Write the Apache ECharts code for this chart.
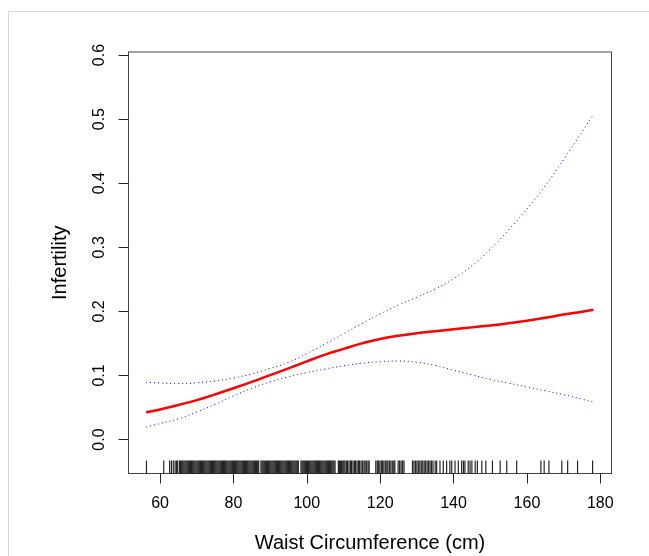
<!DOCTYPE html>
<html>
<head>
<meta charset="utf-8">
<script src="https://cdn.jsdelivr.net/npm/echarts@6/dist/echarts.min.js"></script>
<style>
  html, body { margin: 0; padding: 0; background: #fff; }
  #chart { width: 649px; height: 556px; }
</style>
</head>
<body>
<div id="chart"></div>
<script>
// waist circumference (cm) where the curves were read
const waist = [56.2, 60, 65, 70, 75, 80, 85, 90, 95, 100, 105, 110, 115, 120, 125,
  130, 135, 140, 145, 150, 155, 160, 165, 170, 175, 178.1]
// fitted infertility
const fit = [0.0425, 0.047, 0.054, 0.0615, 0.0705, 0.080, 0.090, 0.1005, 0.111, 0.122,
  0.1325, 0.1415, 0.150, 0.157, 0.162, 0.166, 0.169, 0.172, 0.175, 0.178, 0.1815,
  0.1855, 0.190, 0.195, 0.1995, 0.2025]
// 95% CI upper / lower
const upper = [0.0893, 0.0882, 0.0875, 0.0885, 0.0915, 0.096, 0.1025, 0.111, 0.1205,
  0.134, 0.149, 0.165, 0.181, 0.196, 0.210, 0.222, 0.235, 0.251, 0.271, 0.297, 0.327,
  0.360, 0.396, 0.437, 0.480, 0.507]
const lower = [0.0195, 0.025, 0.0325, 0.043, 0.055, 0.068, 0.080, 0.090, 0.098, 0.1045,
  0.110, 0.115, 0.119, 0.1215, 0.1225, 0.1205, 0.1155, 0.108, 0.101, 0.094, 0.088,
  0.082, 0.076, 0.070, 0.063, 0.0585]
// rug of observed waist values
const rug = [56.3, 61.0, 62.6, 63.1, 63.6, 64.1, 64.5, 64.8, 65.3, 65.6,
  65.9, 66.2, 66.5, 66.8, 67.1, 67.4, 67.7, 68.0, 68.3, 68.6, 68.9, 69.2, 69.5, 69.8,
  70.1, 70.4, 70.7, 71.0, 71.3, 71.6, 71.9, 72.2, 72.5, 72.8, 73.1, 73.4, 73.7, 74.0,
  74.3, 74.6, 74.9, 75.2, 75.5, 75.8, 76.1, 76.4, 76.7, 77.0, 77.3, 77.6, 77.9, 78.2,
  78.5, 78.8, 79.1, 79.4, 79.7, 80.0, 80.3, 80.6, 80.9, 81.2, 81.5, 81.8, 82.1, 82.4,
  82.7, 83.0, 83.3, 83.6, 83.9, 84.2, 84.5, 84.8, 85.1, 85.4, 85.7, 86.0, 86.3, 86.6,
  86.9, 87.5, 87.8, 88.1, 88.4, 88.7, 89.0, 89.3, 89.6, 89.9, 90.2, 90.5, 90.8, 91.1,
  91.4, 91.7, 92.0, 92.3, 92.6, 92.9, 93.2, 93.5, 93.8, 94.1, 94.4, 94.7, 95.0, 95.3,
  95.6, 95.9, 96.2, 96.5, 96.8, 97.1, 97.4, 97.7, 98.4, 98.7, 99.0, 99.3, 99.6, 99.9,
  100.2, 100.5, 100.8, 101.1, 101.4, 101.7, 102.0, 102.3, 102.6, 102.9, 103.2, 103.5,
  103.8, 104.1, 104.4, 104.7, 105.0, 105.3, 105.6, 105.9, 106.2, 106.5, 106.8, 107.1,
  107.4, 107.7, 108.6, 108.9, 109.2, 109.5, 109.8, 110.1,
  110.4, 110.8, 111.1, 111.5, 111.9, 112.2, 112.6, 113.0, 113.3, 113.7, 114.1, 114.4,
  114.8, 115.2, 115.6, 115.9, 116.3, 116.7, 117.0, 118.8, 119.2, 119.5, 119.9, 120.3,
  120.6, 121.0, 121.4, 121.8, 122.1, 122.5, 122.9, 123.3, 123.7, 124.0, 124.9, 125.3,
  125.7, 126.1, 126.5, 128.8, 129.2, 129.6, 130.0, 130.4, 130.8, 131.2, 131.6, 132.0,
  132.4, 132.8, 133.2, 133.6, 134.0, 134.4,
  135.0, 135.4, 136.3, 137.2, 138.1, 139.0, 139.5, 140.4, 141.3, 142.2, 142.7, 143.1,
  144.0, 144.5, 145.0, 145.9, 146.5,
  147.7, 148.8, 150.6, 152.7, 154.5, 157.2, 163.8, 164.7, 166.0, 169.5, 171.1, 173.8, 177.9]
const xTicks = [60, 80, 100, 120, 140, 160, 180]
const yTicks = [0, 0.1, 0.2, 0.3, 0.4, 0.5, 0.6]

const X_MIN = 51.4, X_MAX = 183.05
const Y_MIN = -0.053, Y_MAX = 0.6047
const font = 'Liberation Sans, Arial, Helvetica, sans-serif'

const pairs = arr => waist.map((w, i) => [w, arr[i]])

const chart = echarts.init(document.getElementById('chart'), null, { renderer: 'canvas' })

chart.setOption({
  animation: false,
  backgroundColor: '#fff',
  graphic: [{
    type: 'rect', silent: true, z: -10,
    shape: { x: 8.5, y: 11.5, width: 700, height: 600 },
    style: { fill: 'transparent', stroke: '#d8d8d8', lineWidth: 1 }
  }],
  grid: {
    left: 128.5, right: 37.5, top: 52, bottom: 82.5,
    outerBoundsMode: 'none', containLabel: false,
    show: true, borderColor: '#444', borderWidth: 1, backgroundColor: 'transparent'
  },
  xAxis: {
    type: 'value', min: X_MIN, max: X_MAX,
    name: 'Waist Circumference (cm)', nameLocation: 'middle', nameGap: 60,
    nameTextStyle: { fontFamily: font, fontSize: 20, color: '#000' },
    axisLine: { show: true, onZero: false, lineStyle: { color: '#444', width: 1 } },
    axisTick: { show: true, inside: false, length: 10, customValues: xTicks, lineStyle: { color: '#222', width: 1 } },
    axisLabel: { customValues: xTicks, margin: 22, fontFamily: font, fontSize: 16, color: '#000' },
    splitLine: { show: false }
  },
  yAxis: {
    type: 'value', min: Y_MIN, max: Y_MAX,
    name: 'Infertility', nameLocation: 'middle', nameGap: 58, nameRotate: 90,
    nameTextStyle: { fontFamily: font, fontSize: 20, color: '#000' },
    axisLine: { show: true, onZero: false, lineStyle: { color: '#444', width: 1 } },
    axisTick: { show: true, inside: false, length: 10, customValues: yTicks, lineStyle: { color: '#222', width: 1 } },
    axisLabel: {
      customValues: yTicks, rotate: 90, margin: 21, fontFamily: font, fontSize: 16, color: '#000',
      formatter: v => v.toFixed(1)
    },
    splitLine: { show: false }
  },
  series: [
    {
      type: 'line', data: pairs(upper), smooth: true, showSymbol: false,
      lineStyle: { color: '#0000ff', width: 1, type: [1, 3] }
    },
    {
      type: 'line', data: pairs(lower), smooth: true, showSymbol: false,
      lineStyle: { color: '#0000ff', width: 1, type: [1, 3] }
    },
    {
      type: 'line', data: pairs(fit), smooth: true, showSymbol: false,
      lineStyle: { color: '#ff0000', width: 2.5 }
    },
    {
      // rug
      type: 'custom',
      data: rug.map(v => [v, Y_MIN]),
      renderItem: function (params, api) {
        const p = api.coord([api.value(0), Y_MIN])
        return {
          type: 'line',
          shape: { x1: p[0], y1: p[1], x2: p[0], y2: p[1] - 13 },
          style: { stroke: 'rgba(0,0,0,0.85)', lineWidth: 1.2 }
        }
      }
    }
  ]
})
</script>
</body>
</html>
